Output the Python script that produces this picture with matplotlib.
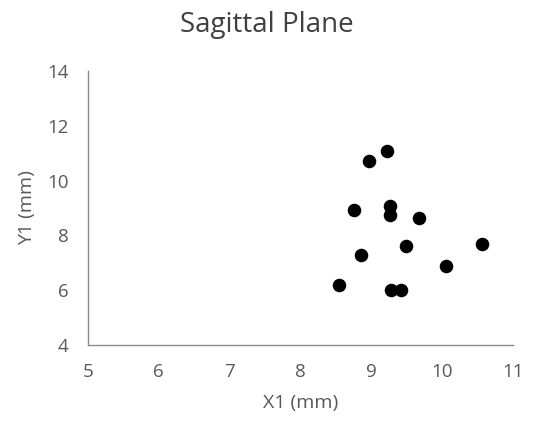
import matplotlib
matplotlib.use("Agg")
import matplotlib.pyplot as plt

x_vals = [8.55, 8.75, 8.85, 8.97, 9.22, 9.26, 9.26, 9.28, 9.42, 9.49, 9.67, 10.06, 10.56]
y_vals = [6.19, 8.92, 7.30, 10.70, 11.07, 9.08, 8.73, 6.00, 6.00, 7.62, 8.62, 6.89, 7.68]
x_ticks = [5, 6, 7, 8, 9, 10, 11]
y_ticks = [4, 6, 8, 10, 12, 14]

plt.rcParams['font.family'] = ['Open Sans', 'DejaVu Sans']
txt = '#595959'

fig = plt.figure(figsize=(5.33, 4.24), dpi=100)
ax = fig.add_axes([0.165, 0.1863, 0.7975, 0.6462])
ax.scatter(x_vals, y_vals, s=95, color='black', zorder=3, linewidths=0)
ax.set_xlim(5, 11)
ax.set_ylim(4, 14)
ax.set_xticks(x_ticks)
ax.set_yticks(y_ticks)
for s in ['top', 'right']:
    ax.spines[s].set_visible(False)
for s in ['left', 'bottom']:
    ax.spines[s].set_color('#8c8c8c')
    ax.spines[s].set_linewidth(1.0)
ax.tick_params(length=0, labelsize=13.5, colors=txt)
ax.tick_params(axis='x', pad=13)
ax.tick_params(axis='y', pad=14)
ax.set_xlabel('X1 (mm)', fontsize=14, color=txt, labelpad=9)
ax.set_ylabel('Y1 (mm)', fontsize=14, color=txt, labelpad=8)
fig.suptitle('Sagittal Plane', fontsize=20, color='#404040', y=0.975)
fig.savefig('out.png', dpi=100)
